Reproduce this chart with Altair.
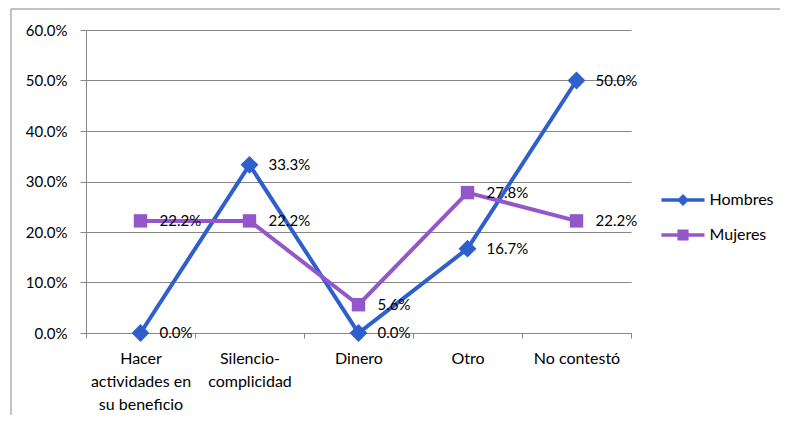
import altair as alt
import pandas as pd

categorias = [
    "Hacer\nactividades en\nsu beneficio",
    "Silencio-\ncomplicidad",
    "Dinero",
    "Otro",
    "No contestó",
]
series = ["Hombres", "Mujeres"]
hombres = [0.0, 0.333, 0.0, 0.167, 0.50]
mujeres = [0.222, 0.222, 0.056, 0.278, 0.222]
marcadores = ["diamond", "square"]
colores = ["#2F5FCC", "#9457C9"]
y_ticks = [0.0, 0.1, 0.2, 0.3, 0.4, 0.5, 0.6]

rows = []
for s, vals, m in zip(series, [hombres, mujeres], marcadores):
    for c, v in zip(categorias, vals):
        rows.append({"Categoria": c, "Serie": s, "Valor": v, "Marca": m})
df = pd.DataFrame(rows)

W, H = 545, 303
FONT = "Lato"
GRID = "#868686"

# legend symbols: line with marker (custom SVG paths, unit = sqrt(size)/2)
path_h = "M-2.69,-0.22L2.69,-0.22L2.69,0.22L-2.69,0.22Z M0,-0.75L0.75,0L0,0.75L-0.75,0Z"
path_m = "M-2.69,-0.22L2.69,-0.22L2.69,0.22L-2.69,0.22Z M-0.7,-0.7L0.7,-0.7L0.7,0.7L-0.7,0.7Z"

x_enc = alt.X(
    "Categoria:N",
    sort=categorias,
    title=None,
    bandPosition=0.5,
    scale=alt.Scale(type="band", paddingInner=0, paddingOuter=0),
    axis=alt.Axis(
        labelExpr="split(datum.label, '\\n')",
        labelAngle=0,
        labelLineHeight=23,
        labelPadding=12,
        labelFontSize=16,
        tickBand="extent",
        tickSize=5,
        tickColor=GRID,
        domainColor=GRID,
        grid=False,
    ),
)
y_enc = alt.Y(
    "Valor:Q",
    title=None,
    scale=alt.Scale(domain=[0, 0.6], nice=False),
    axis=alt.Axis(
        values=y_ticks,
        format=".1%",
        grid=True,
        gridColor=GRID,
        gridOpacity=1,
        tickColor=GRID,
        domainColor=GRID,
        tickSize=6,
        labelPadding=13,
        labelFontSize=15,
    ),
)

color_scale = alt.Scale(domain=series, range=colores)

base = alt.Chart(df)

lines = base.mark_line(strokeWidth=4).encode(
    x=x_enc, y=y_enc,
    color=alt.Color("Serie:N", scale=color_scale, legend=None),
)

markers = base.mark_point(filled=True, opacity=1).encode(
    x=x_enc, y=y_enc,
    color=alt.Color("Serie:N", scale=color_scale, legend=None),
    shape=alt.Shape("Marca:N", scale=None, legend=None),
    size=alt.Size("Marca:N", scale=alt.Scale(domain=marcadores, range=[320, 180]), legend=None),
)

labels = base.mark_text(
    align="left", baseline="middle", dx=19, fontSize=15, font=FONT, color="black"
).encode(
    x=x_enc, y=y_enc,
    text=alt.Text("Valor:Q", format=".1%"),
)

leg = alt.Legend(
    title=None,
    orient="none",
    legendX=589,
    legendY=162,
    padding=0,
    rowPadding=19,
    labelOffset=18.5,
    symbolSize=256,
    symbolStrokeWidth=0,
    symbolOpacity=1,
    labelFont=FONT,
    labelFontSize=16,
    labelColor="black",
)
legend_layer = base.transform_filter("false").mark_point(filled=True, size=256, opacity=1).encode(
    x=x_enc, y=y_enc,
    color=alt.Color("Serie:N", scale=color_scale, legend=leg),
    shape=alt.Shape("Serie:N", scale=alt.Scale(domain=series, range=[path_h, path_m]), legend=leg),
)

frame_data = pd.DataFrame({"k": [0]})
frame_v = alt.Chart(frame_data).mark_rule(color=GRID, strokeWidth=1).encode(
    x=alt.value(-75), y=alt.value(-21), y2=alt.value(H + 150)
)
frame_h = alt.Chart(frame_data).mark_rule(color=GRID, strokeWidth=1).encode(
    x=alt.value(-75), x2=alt.value(W + 300), y=alt.value(-21)
)

chart = (
    alt.layer(frame_v, frame_h, lines, markers, labels, legend_layer)
    .resolve_scale(color="independent", shape="independent", size="independent")
    .properties(
        width=W,
        height=H,
        autosize=alt.AutoSizeParams(type="none"),
        padding={"left": 78, "top": 22, "right": 149, "bottom": 82},
        background="white",
    )
    .configure_view(stroke=None)
    .configure_axis(labelFont=FONT, labelColor="black")
)

chart.save("out.html", embed_options={"renderer": "svg", "actions": False})
